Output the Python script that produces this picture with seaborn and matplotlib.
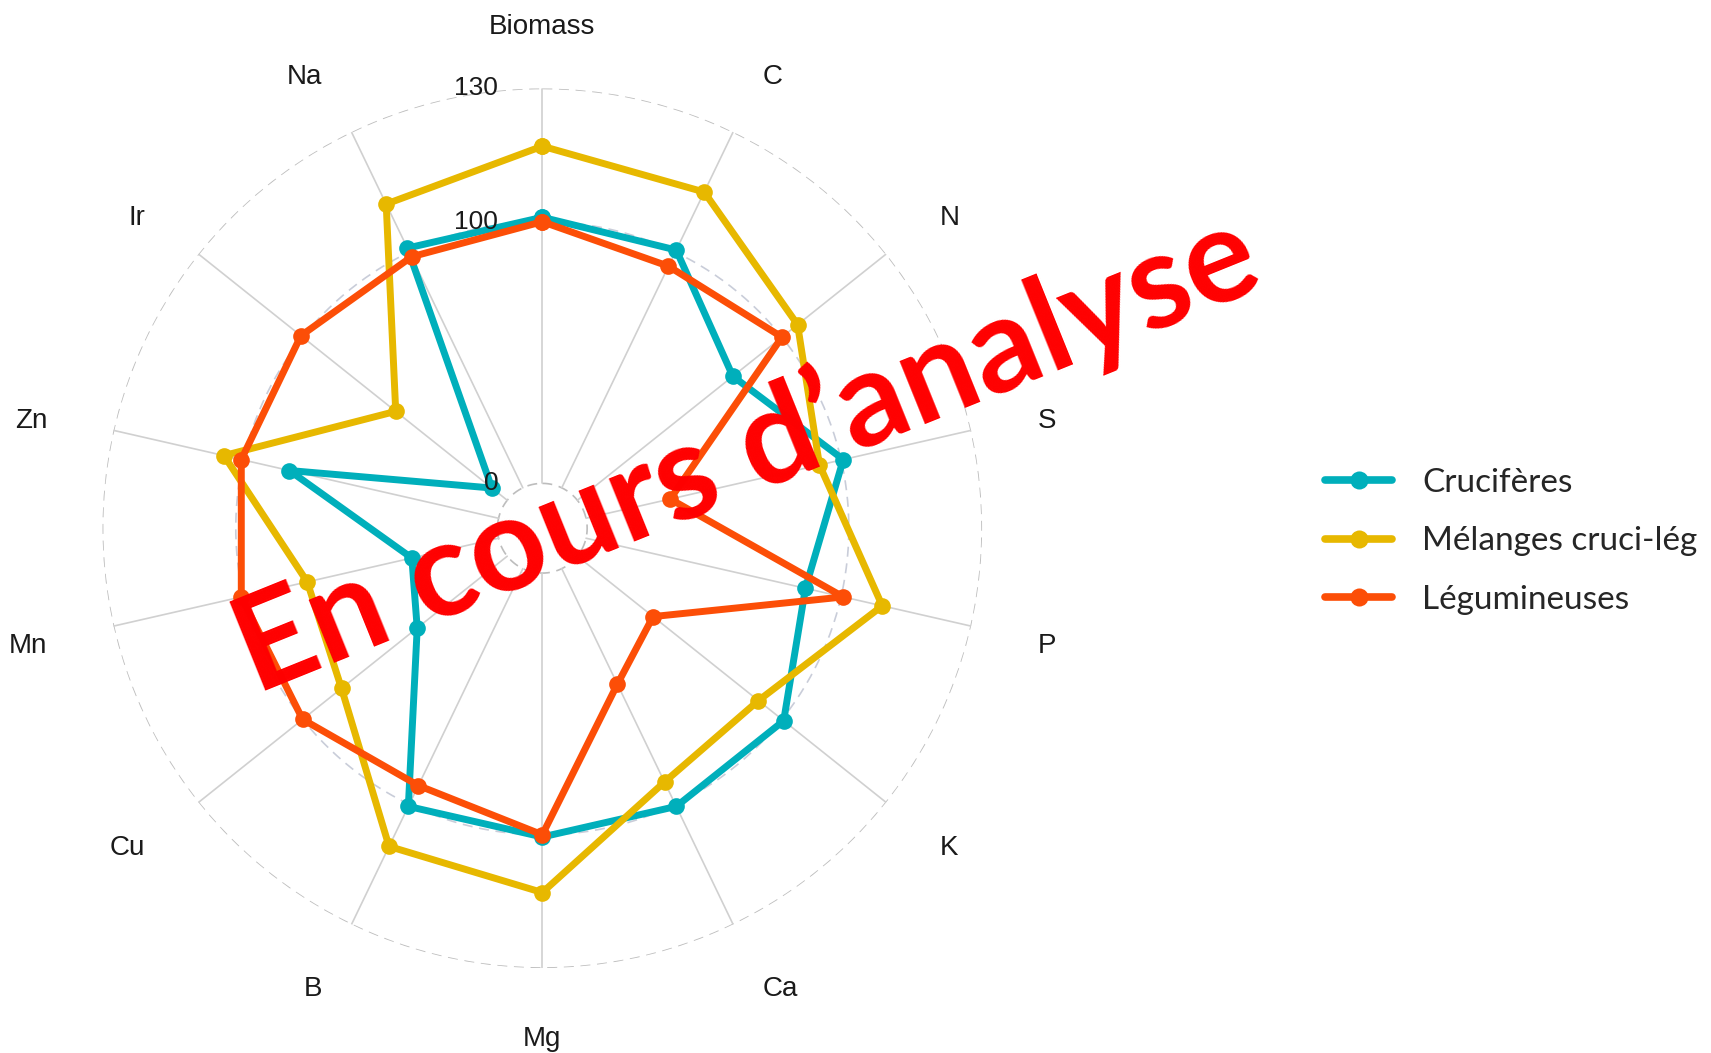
import numpy as np
import pandas as pd
import matplotlib
matplotlib.use("Agg")
import matplotlib.pyplot as plt
from matplotlib.lines import Line2D
import seaborn as sns

# Données (indices relatifs, 100 = référence)
categories = ['Biomass', 'C', 'N', 'S', 'P', 'K', 'Ca', 'Mg', 'B', 'Cu', 'Mn', 'Zn', 'Ir', 'Na']
cruciferes = [101, 100.5, 76, 100.5, 86, 100.5, 100.5, 100.5, 100.5, 44, 34, 82, 7.5, 101]
melanges = [117, 115, 104.5, 91.5, 109.5, 88.5, 90.5, 113, 110.5, 81, 75, 104.5, 54.5, 112]
legumineuses = [100, 94, 100, 33, 100.5, 37, 49, 100, 92, 100, 100.5, 100.5, 100.5, 98]
groupes = ['Crucifères', 'Mélanges cruci-lég', 'Légumineuses']
couleurs = ['#00AFBB', '#E7B800', '#FC4E07']
grid_values = [0, 100, 130]
grid_labels = ['0', '100', '130']

# échelle radiale (trou central comme ggradar), rayon exprimé en fraction
grid_pos = [0.102, 0.697, 1.0]


def to_r(v):
    return np.interp(v, grid_values, grid_pos)


n = len(categories)
theta = np.linspace(0, 2 * np.pi, n, endpoint=False)
theta_closed = np.append(theta, 2 * np.pi)

frames = []
for g, vals in zip(groupes, [cruciferes, melanges, legumineuses]):
    vals_closed = np.append(vals, vals[0])
    frames.append(pd.DataFrame({'groupe': g, 'theta': theta_closed, 'r': to_r(vals_closed)}))
df = pd.concat(frames, ignore_index=True)

sns.set_theme(style='white')
plt.rcParams['font.family'] = ['Liberation Sans', 'DejaVu Sans']

fig = plt.figure(figsize=(17.11, 10.53), dpi=100)
ax = fig.add_axes([0.0599, 0.0807, 0.5141, 0.8353], projection='polar')
ax.set_theta_zero_location('N')
ax.set_theta_direction(-1)
ax.set_ylim(0, 1)
ax.grid(False)
ax.spines['polar'].set_visible(False)
ax.set_xticks([])
ax.set_yticks([])
ax.set_facecolor('white')

# grille
tt = np.linspace(0, 2 * np.pi, 400)
for v, p in zip(grid_values, grid_pos):
    col = '#C9CDD9' if v == 100 else '#BDBDBD'
    ax.plot(tt, np.full_like(tt, p), color=col, lw=1.2, ls=(0, (6, 4)), zorder=1)
for t in theta:
    ax.plot([t, t], [grid_pos[0], grid_pos[-1]], color='#D0D0D0', lw=1.2, zorder=1)

sns.lineplot(data=df, x='theta', y='r', hue='groupe', palette=couleurs, sort=False,
             estimator=None, lw=5, marker='o', markersize=12,
             markeredgewidth=0, legend=False, ax=ax, zorder=3)
ax.set_xlabel('')
ax.set_ylabel('')

# étiquettes des axes (décalage 1.15, alignement selon le côté)
for t, lab in zip(theta, categories):
    s = np.sin(t)
    ha = 'center' if abs(s) < 0.1 else ('left' if s > 0 else 'right')
    x, y = 1.155 * s, 1.15 * np.cos(t) - 0.011
    ax.text(np.arctan2(x, y), np.hypot(x, y), lab, ha=ha, va='center',
            fontsize=20, color='#1a1a1a')

# étiquettes de la grille
for lab, p in zip(grid_labels, grid_pos):
    x, y = -0.1, p
    ax.text(np.arctan2(x, y), np.hypot(x, y), lab, ha='right', va='center',
            fontsize=19, color='#1a1a1a', zorder=4)

# légende
handles = [Line2D([0], [0], color=c, lw=5.5, marker='o', markersize=13, markeredgewidth=0)
           for c in couleurs]
fig.legend(handles, groupes, loc='center left', bbox_to_anchor=(0.757, 0.486),
           frameon=False, handlelength=2.0, labelspacing=0.85,
           handletextpad=0.9, prop={'family': 'Lato', 'size': 24})

# filigrane
fig.text(0.436, 0.570, 'En cours d\u2019analyse', color='#FF0000', fontsize=96,
         fontweight='bold', family='Lato', rotation=22, ha='center', va='center',
         rotation_mode='anchor', zorder=10)

fig.savefig('out.png', dpi=100)
